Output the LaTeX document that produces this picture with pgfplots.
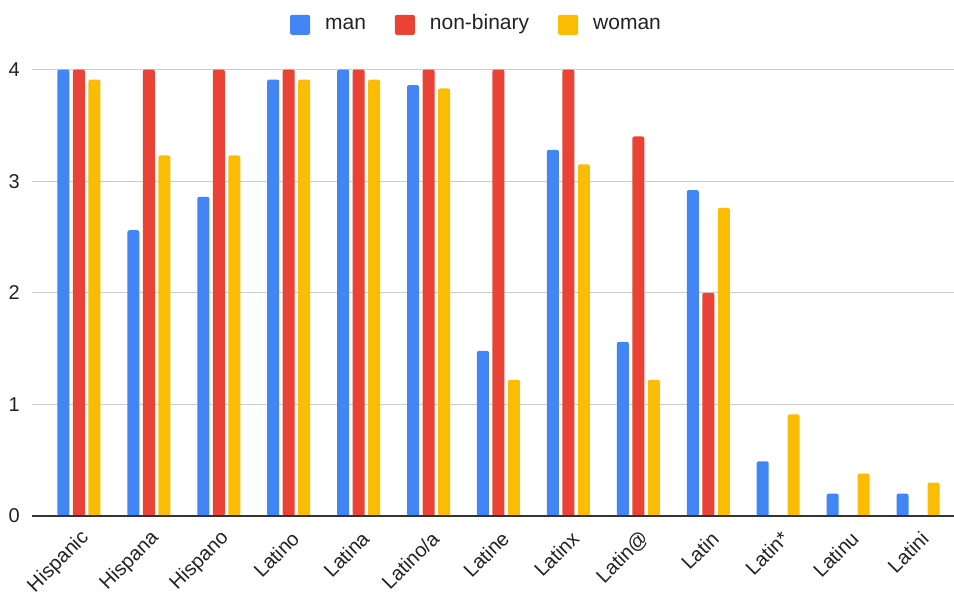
\documentclass[border=0pt]{standalone}
\usepackage{fontspec}
\setmainfont{Liberation Sans}
\usepackage{pgfplots}
\pgfplotsset{compat=1.18}
\definecolor{manblue}{HTML}{4285F4}
\definecolor{nbred}{HTML}{EA4335}
\definecolor{womanyellow}{HTML}{FBBC04}
\definecolor{gridgray}{HTML}{CCCCCC}
\definecolor{basegray}{HTML}{333333}
\definecolor{labelgray}{HTML}{222222}

\begin{document}
\begin{tikzpicture}
\begin{axis}[
  scale only axis,
  width=922pt, height=446.5pt,
  xmin=-0.671, xmax=12.514,
  ymin=0, ymax=4,
  ybar=3.5pt, bar width=12pt,
  xtick={0,...,12},
  xticklabels={Hispanic,Hispana,Hispano,Latino,Latina,Latino/a,Latine,Latinx,Latin@,Latin,Latin*,Latinu,Latini},
  ytick={0,1,2,3,4},
  ymajorgrids,
  grid style={gridgray, line width=1.2pt},
  axis line style={draw=none},
  major tick length=0pt,
  tick label style={font=\fontsize{20}{24}\selectfont, text=labelgray},
  /pgf/number format/assume math mode=true,
  yticklabel style={anchor=east, inner sep=0pt, xshift=-12pt},
  xticklabel style={xshift=7pt, yshift=-19pt, rotate=45, anchor=east, inner sep=0pt},
  legend image code/.code={\fill[#1, rounded corners=2pt] (0pt,-7.5pt) rectangle (20pt,12.5pt);},
  legend columns=-1,
  legend style={draw=none, fill=none, at={(0.481,1.1)}, anchor=center,
    font=\fontsize{21}{25}\selectfont, text=labelgray,
    nodes={inner sep=0pt, text height=0.72em, text depth=0.2em},
    /tikz/every odd column/.append style={column sep=15pt},
    /tikz/every even column/.append style={column sep=29pt}},
]
% average score per term, by gender
\addplot[fill=manblue, draw=none, rounded corners=2pt] coordinates {
  (0,4.00) (1,2.56) (2,2.86) (3,3.91) (4,4.00) (5,3.86) (6,1.48)
  (7,3.28) (8,1.56) (9,2.92) (10,0.49) (11,0.20) (12,0.20)};
\addplot[fill=nbred, draw=none, rounded corners=2pt] coordinates {
  (0,4.00) (1,4.00) (2,4.00) (3,4.00) (4,4.00) (5,4.00) (6,4.00)
  (7,4.00) (8,3.40) (9,2.00)};
\addplot[fill=womanyellow, draw=none, rounded corners=2pt] coordinates {
  (0,3.91) (1,3.23) (2,3.23) (3,3.91) (4,3.91) (5,3.83) (6,1.22)
  (7,3.15) (8,1.22) (9,2.76) (10,0.91) (11,0.38) (12,0.30)};
\legend{man, non-binary, woman}
% baseline at zero
\draw[basegray, line width=1.3pt] (rel axis cs:0,0) -- (rel axis cs:1,0);
\coordinate (O) at (rel axis cs:0,0);
\end{axis}
\pgfresetboundingbox
\path[use as bounding box] (O) ++(-32pt,-79pt) rectangle ++(954pt,595pt);
\end{tikzpicture}
\end{document}
